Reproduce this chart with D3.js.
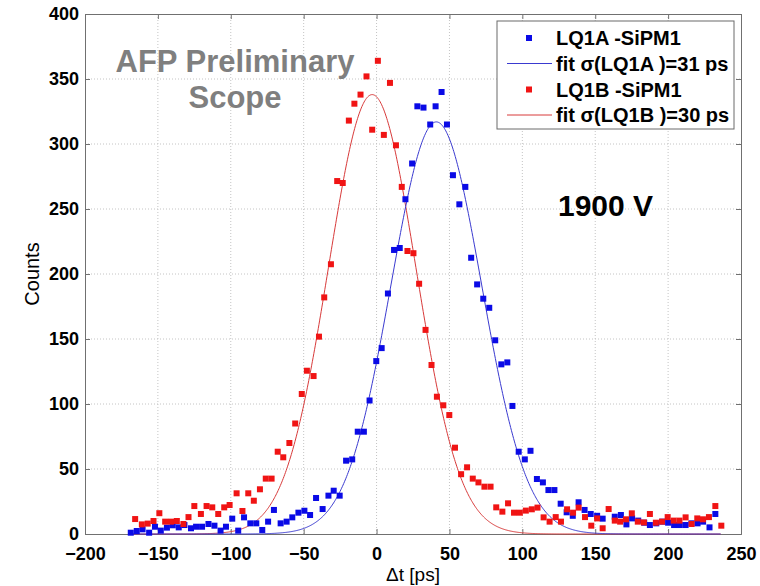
<!DOCTYPE html>
<html>
<head>
<meta charset="utf-8">
<script src="https://cdn.jsdelivr.net/npm/d3@7"></script>
<style>
  html, body { margin: 0; padding: 0; background: #ffffff; }
  svg { display: block; }
  text { font-family: "Liberation Sans", Arial, Helvetica, sans-serif; }
</style>
</head>
<body>
<svg id="chart" width="760" height="586"></svg>
<script>
// ---------- data ----------
const xTicks = [-200, -150, -100, -50, 0, 50, 100, 150, 200, 250];
const yTicks = [0, 50, 100, 150, 200, 250, 300, 350, 400];

// LQ1A -SiPM1 (blue) : bin centre [ps], counts
const tA = [-168.6,-164.5,-160.5,-156,-152,-148,-143.8,-139.8,-135.7,-131.8,-127.3,-123.8,-119.7,-115.3,-111.2,-107,-103.3,-99,-94.9,-90.9,-86.6,-82.5,-78.4,-74.4,-70.4,-65.8,-61.7,-57.8,-53.6,-49.5,-45.6,-41.5,-37,-33,-29.4,-25.3,-20.9,-16.7,-12.9,-8.7,-4.8,-0.2,3.5,7.8,12,15.9,19.8,24.4,28,32.2,36.8,40.5,44.6,48.3,52.4,56.8,60.9,64.9,69,73.2,77.3,81.4,85.6,89.7,93.2,97.5,101.7,105.6,110,114.1,117.9,122,126.3,130.4,134.6,138.6,142.7,146.9,151.3,155.1,163.4,167.6,171.4,175.3,179.5,183.6,187.5,191.9,196,200,204.1,208,212,216,220.2,224,228.4,232.4];
const cA = [1,2.3,3.6,1,5.6,2.6,4.9,6.7,5.1,6.9,4.4,5.6,5.6,7.7,6.4,2.6,5.6,11.8,2.6,12.8,8.2,8.2,3.1,9.5,18.5,8.2,9.5,12.8,16.4,17.9,14.6,27.7,19.2,29.5,33.3,29.5,56.4,57.4,78.7,78.7,102.7,133,143,185,218.5,220,257.5,285,329,328,315,329,340,315,276,253.6,267,212.5,192,181,174,149,130.5,132,98.5,63.3,57.4,64,42.3,39.7,33.8,33.8,23.3,16.7,14,24.4,18.5,15.4,14,11.8,13.3,14.6,7.4,12,10.3,8.7,6.9,8.2,9.5,8.7,6.9,6.9,6.9,8.2,8.2,9.5,5.1,15.4];

// LQ1B -SiPM1 (red)
const tB = [-165.6,-161,-157,-153,-149,-145,-141,-137,-132.5,-129,-125,-120.5,-116.6,-112.7,-108.6,-104.5,-100.8,-96,-92,-88,-84.2,-80,-76,-72,-67.8,-64,-59.8,-55.8,-51.3,-47.8,-43.2,-39.5,-35.9,-31.3,-27,-23.2,-19,-15.2,-11,-6.9,-3,0.9,5,9.2,13.3,17.3,21.2,25.3,29.2,33.6,37.7,41.4,45.8,49.9,53.8,58,62.1,66,69.9,74,78.2,82.1,86.3,90.2,94.3,98.3,102.4,106.5,110.4,114.6,118.7,122.9,126.5,130.7,134.8,138.6,143,147.3,151.3,155.1,159.2,163.4,167.1,171.1,175.1,179.2,183.4,187.5,191.6,195.8,199.7,203.8,207.8,212,216.1,220,223.9,228,232.4,236.5];
const cB = [11.5,7.4,8,10,16,9.5,9.5,10,7.7,13,21.5,15.4,21.5,20.5,15.4,20.5,22.3,31.3,17.7,31.3,25.6,34.4,42.6,42.6,63.3,59,70,85,107.7,125.6,121.5,151.8,182,207.5,271.5,270,318,331,338,352,311,364,307,347,299,267,217.7,216,192.5,157,130,105.6,99,91.5,66.4,46,51.3,42.6,39.7,36.4,36.4,20.5,17.2,23.6,16.4,16.4,18,19,20.3,12.8,9.5,13,9.5,19,16.4,20.3,13,6.4,12,4.4,19.2,10.3,9.5,11.3,15.9,9.5,8.9,15.4,8.7,9.5,13,10.3,10.3,12.8,7.7,12,11.3,13,21.5,6.4];

// Gaussian fit parameters [amplitude, mean, sigma]
const fitA = [317, 41, 31];
const fitB = [338, -3, 30];
const fitRange = [-168, 236];

const legendLabels = ["LQ1A -SiPM1", "fit \u03c3(LQ1A )=31 ps", "LQ1B -SiPM1", "fit \u03c3(LQ1B )=30 ps"];

// ---------- layout ----------
const svg = d3.select("#chart");
const L = 85, R = 741, T = 14, B = 534;
const x = d3.scaleLinear().domain([-200, 250]).range([L, R]);
const y = d3.scaleLinear().domain([0, 400]).range([B, T]);

svg.append("rect").attr("width", 760).attr("height", 586).attr("fill", "#fff");

// grid
const grid = svg.append("g");
grid.selectAll(".gx").data(xTicks.slice(1, -1)).enter().append("line")
  .attr("x1", d => x(d)).attr("x2", d => x(d)).attr("y1", T).attr("y2", B)
  .attr("stroke", "#c4c4c4").attr("stroke-width", 1).attr("stroke-dasharray", "1,2");
grid.selectAll(".gy").data(yTicks.slice(1, -1)).enter().append("line")
  .attr("y1", d => y(d)).attr("y2", d => y(d)).attr("x1", L).attr("x2", R)
  .attr("stroke", "#c4c4c4").attr("stroke-width", 1).attr("stroke-dasharray", "1,2");

// axes (matlab style, inward ticks on all sides)
const axColor = "#707070";
const axB = svg.append("g").attr("transform", `translate(0,${B})`)
  .call(d3.axisBottom(x).tickValues(xTicks).tickSize(-5).tickPadding(10).tickFormat(d3.format("d")));
const axT = svg.append("g").attr("transform", `translate(0,${T})`)
  .call(d3.axisTop(x).tickValues(xTicks).tickSize(-5).tickFormat(""));
const axL = svg.append("g").attr("transform", `translate(${L},0)`)
  .call(d3.axisLeft(y).tickValues(yTicks).tickSize(-5).tickPadding(6).tickFormat(d3.format("d")));
const axR = svg.append("g").attr("transform", `translate(${R},0)`)
  .call(d3.axisRight(y).tickValues(yTicks).tickSize(-5).tickFormat(""));
[axB, axT, axL, axR].forEach(g => {
  g.select(".domain").attr("stroke", axColor);
  g.selectAll(".tick line").attr("stroke", axColor);
});
axB.selectAll("text").attr("font-size", 18).attr("font-weight", "bold").attr("fill", "#000")
  .attr("font-family", "Liberation Sans, Arial, sans-serif").attr("dy", "0.9em");
axL.selectAll("text").attr("font-size", 18).attr("font-weight", "bold").attr("fill", "#000")
  .attr("font-family", "Liberation Sans, Arial, sans-serif");

// axis titles
svg.append("text").attr("x", (L + R) / 2).attr("y", 581).attr("text-anchor", "middle")
  .attr("font-size", 19).text("\u0394t [ps]");
svg.append("text").attr("transform", `translate(39,${(T + B) / 2}) rotate(-90)`)
  .attr("text-anchor", "middle").attr("font-size", 20).text("Counts");

// fit curves
function gauss(p, t) { return p[0] * Math.exp(-((t - p[1]) ** 2) / (2 * p[2] * p[2])); }
const tt = d3.range(fitRange[0], fitRange[1] + 0.01, 0.5);
const line = d3.line().x(d => x(d[0])).y(d => y(d[1]));
const plot = svg.append("g");
plot.append("path").datum(tt.map(t => [t, gauss(fitB, t)]))
  .attr("d", line).attr("fill", "none").attr("stroke", "#d83a3a").attr("stroke-width", 1);
plot.append("path").datum(tt.map(t => [t, gauss(fitA, t)]))
  .attr("d", line).attr("fill", "none").attr("stroke", "#3a3ad0").attr("stroke-width", 1);

// markers
const ms = 6;
const blue = "#0a0ae6", red = "#f01414";
plot.selectAll(".ma").data(tA.map((t, i) => [t, cA[i]])).enter().append("rect")
  .attr("x", d => x(d[0]) - ms / 2).attr("y", d => y(d[1]) - ms / 2)
  .attr("width", ms).attr("height", ms).attr("fill", blue);
plot.selectAll(".mb").data(tB.map((t, i) => [t, cB[i]])).enter().append("rect")
  .attr("x", d => x(d[0]) - ms / 2).attr("y", d => y(d[1]) - ms / 2)
  .attr("width", ms).attr("height", ms).attr("fill", red);

// annotations
svg.append("text").attr("x", 235).attr("y", 72).attr("text-anchor", "middle")
  .attr("font-size", 31).attr("font-weight", "bold").attr("fill", "#7f7f7f").text("AFP Preliminary");
svg.append("text").attr("x", 235).attr("y", 108).attr("text-anchor", "middle")
  .attr("font-size", 31).attr("font-weight", "bold").attr("fill", "#7f7f7f").text("Scope");
svg.append("text").attr("x", 558).attr("y", 216)
  .attr("font-size", 30).attr("font-weight", "bold").attr("fill", "#000").text("1900 V");

// legend
const lg = svg.append("g");
lg.append("rect").attr("x", 497).attr("y", 21).attr("width", 237).attr("height", 108)
  .attr("fill", "#fff").attr("stroke", "#6a6a6a").attr("stroke-width", 1);
const rows = [38, 63.5, 89.5, 115];
const kinds = [["m", blue], ["l", "#3a3ad0"], ["m", red], ["l", "#d83a3a"]];
legendLabels.forEach((lab, i) => {
  const [k, c] = kinds[i];
  if (k === "m") {
    lg.append("rect").attr("x", 529 - ms / 2).attr("y", rows[i] - ms / 2)
      .attr("width", ms).attr("height", ms).attr("fill", c);
  } else {
    lg.append("line").attr("x1", 507).attr("x2", 552).attr("y1", rows[i]).attr("y2", rows[i])
      .attr("stroke", c).attr("stroke-width", 1);
  }
  lg.append("text").attr("x", 556).attr("y", rows[i]).attr("dy", "0.36em")
    .attr("font-size", 20).attr("font-weight", "bold").attr("fill", "#000").text(lab);
});
</script>
</body>
</html>
